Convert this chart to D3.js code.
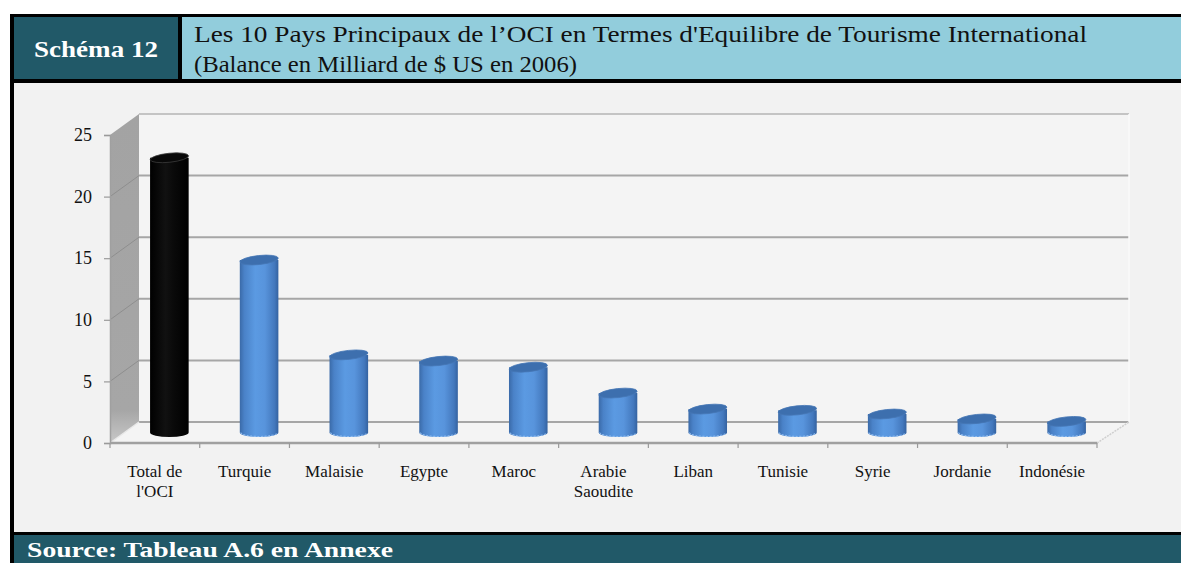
<!DOCTYPE html>
<html>
<head>
<meta charset="utf-8">
<script src="https://cdn.jsdelivr.net/npm/d3@7"></script>
<style>
  html, body { margin: 0; padding: 0; background: #ffffff; }
  svg { display: block; }
  svg text { font-family: "Liberation Serif", "Times New Roman", serif; }
</style>
</head>
<body>
<svg id="chart" width="1181" height="563"></svg>
<script>
// ---------- data ----------
const categories = ["Total de\nl'OCI", "Turquie", "Malaisie", "Egypte", "Maroc", "Arabie\nSaoudite", "Liban", "Tunisie", "Syrie", "Jordanie", "Indonésie"];
const values = [22.3, 14.0, 6.3, 5.8, 5.3, 3.2, 1.9, 1.8, 1.5, 1.1, 0.9];
const yTicks = [0, 5, 10, 15, 20, 25];
const schemaLabel = "Schéma 12";
const titleLines = ["Les 10 Pays Principaux de l’OCI en Termes d'Equilibre de Tourisme International", "(Balance en Milliard de $ US en 2006)"];
const sourceText = "Source: Tableau A.6 en Annexe";

// ---------- layout ----------
const W = 1181, H = 563;
const svg = d3.select("#chart");
const serif = "Liberation Serif";
const DX = 29, DY = -21;           // depth offset of back wall
const x = d3.scaleBand().domain(categories).range([110, 1097]).padding(0);
const y = d3.scaleLinear().domain([0, 25]).range([443, 135]);

const defs = svg.append("defs");
function hGrad(id, stops) {
  const g = defs.append("linearGradient").attr("id", id).attr("x1", "0%").attr("x2", "100%").attr("y1", "0%").attr("y2", "0%");
  stops.forEach(s => g.append("stop").attr("offset", s[0]).attr("stop-color", s[1]));
}
hGrad("blueBody", [[0, "#3a6aa8"], [0.12, "#4a82c8"], [0.4, "#5b9ae2"], [0.65, "#5894dc"], [0.9, "#4378bd"], [1, "#3462a0"]]);
hGrad("blackBody", [[0, "#000"], [0.4, "#111"], [0.6, "#0a0a0a"], [1, "#000"]]);
const sideG = defs.append("linearGradient").attr("id", "sideWall").attr("x1", "0").attr("x2", "0").attr("y1", "0").attr("y2", "1");
sideG.append("stop").attr("offset", 0).attr("stop-color", "#a3a3a3");
sideG.append("stop").attr("offset", 0.9).attr("stop-color", "#a6a6a6");
sideG.append("stop").attr("offset", 1).attr("stop-color", "#c8c8c8");

function txt(sel) { return sel.style("font-family", serif); }

// ---------- frame ----------
svg.append("rect").attr("width", W).attr("height", H).attr("fill", "#ffffff");
// header
svg.append("rect").attr("x", 10).attr("y", 14).attr("width", W - 10).attr("height", 69).attr("fill", "#000");
svg.append("rect").attr("x", 14).attr("y", 17).attr("width", 164).attr("height", 62).attr("fill", "#215968");
svg.append("rect").attr("x", 182).attr("y", 17).attr("width", W - 182).attr("height", 62).attr("fill", "#92cddc");
// chart area
svg.append("rect").attr("x", 10).attr("y", 83).attr("width", W - 10).attr("height", 449).attr("fill", "#000");
svg.append("rect").attr("x", 14).attr("y", 83).attr("width", W - 14).attr("height", 449).attr("fill", "#f2f2f2");
// source bar
svg.append("rect").attr("x", 10).attr("y", 532).attr("width", W - 10).attr("height", 31).attr("fill", "#000");
svg.append("rect").attr("x", 14).attr("y", 535).attr("width", W - 14).attr("height", 28).attr("fill", "#215968");

// header text
txt(svg.append("text")).attr("x", 96).attr("y", 57).attr("text-anchor", "middle")
  .attr("font-weight", "bold").attr("font-size", 24).attr("fill", "#ffffff")
  .attr("textLength", 124).attr("lengthAdjust", "spacingAndGlyphs").text(schemaLabel);
txt(svg.append("text")).attr("x", 194).attr("y", 42).attr("font-size", 24).attr("fill", "#111")
  .attr("textLength", 893).attr("lengthAdjust", "spacingAndGlyphs").text(titleLines[0]);
txt(svg.append("text")).attr("x", 194).attr("y", 72).attr("font-size", 24).attr("fill", "#111")
  .attr("textLength", 383).attr("lengthAdjust", "spacingAndGlyphs").text(titleLines[1]);
txt(svg.append("text")).attr("x", 27).attr("y", 557).attr("font-weight", "bold").attr("font-size", 22).attr("fill", "#ffffff")
  .attr("textLength", 366).attr("lengthAdjust", "spacingAndGlyphs").text(sourceText);

// ---------- 3D plot frame ----------
const x0 = x.range()[0], x1 = x.range()[1];
const yTop = y(25), yBot = y(0);
// back wall
svg.append("rect").attr("x", x0 + DX).attr("y", yTop + DY).attr("width", (x1 + DX + 3) - (x0 + DX)).attr("height", yBot - yTop)
  .attr("fill", "#f4f4f4");
// floor
svg.append("path").attr("d", `M${x0},${yBot} L${x0 + DX},${yBot + DY} L${x1 + DX + 3},${yBot + DY} L${x1},${yBot} Z`).attr("fill", "#f4f4f4");
// back wall gridlines
svg.append("g").selectAll("line").data(yTicks).join("line")
  .attr("x1", x0 + DX).attr("x2", x1 + DX + 3)
  .attr("y1", d => y(d) + DY).attr("y2", d => y(d) + DY)
  .attr("stroke", d => d === 25 ? "#c4c4c4" : "#a6a6a6").attr("stroke-width", 2);
// right edge of back wall
svg.append("line").attr("x1", x1 + DX + 3).attr("x2", x1 + DX + 3).attr("y1", yTop + DY).attr("y2", yBot + DY)
  .attr("stroke", "#fafafa").attr("stroke-width", 1.5);
// side wall
svg.append("path").attr("d", `M${x0},${yTop} L${x0 + DX},${yTop + DY} L${x0 + DX},${yBot + DY} L${x0},${yBot} Z`)
  .attr("fill", "url(#sideWall)");
svg.append("g").selectAll("line").data(yTicks.filter(d => d > 0 && d < 25)).join("line")
  .attr("x1", x0).attr("x2", x0 + DX)
  .attr("y1", d => y(d)).attr("y2", d => y(d) + DY)
  .attr("stroke", "#8e8e8e").attr("stroke-width", 1);
// floor edges
svg.append("line").attr("x1", x0).attr("y1", yBot).attr("x2", x0 + DX).attr("y2", yBot + DY).attr("stroke", "#e8e8e8").attr("stroke-width", 1.5);
svg.append("line").attr("x1", x1).attr("y1", yBot).attr("x2", x1 + DX + 3).attr("y2", yBot + DY)
  .attr("stroke", "#cfcfcf").attr("stroke-width", 1.5).attr("stroke-dasharray", "2,1");

// ---------- cylinders ----------
const rx = x.bandwidth() * 0.215, ry = 4.5;
const bars = svg.append("g");
categories.forEach((c, i) => {
  const cx = x(c) + x.bandwidth() / 2 + DX / 2;
  const base = y(0) + DY / 2;
  const top = y(values[i]) + DY / 2;
  const isTotal = i === 0;
  const g = bars.append("g");
  g.append("path")
    .attr("d", `M${cx - rx},${top} L${cx - rx},${base} A${rx},${ry} 0 0 0 ${cx + rx},${base} L${cx + rx},${top} Z`)
    .attr("fill", isTotal ? "url(#blackBody)" : "url(#blueBody)");
  if (!isTotal) {
    g.append("path").attr("d", `M${cx - rx + 1},${base} A${rx - 1},${ry - 0.5} 0 0 0 ${cx + rx - 1},${base}`)
      .attr("fill", "none").attr("stroke", "#8dbbf0").attr("stroke-width", 1.2).attr("stroke-dasharray", "2,1.5");
  }
  g.append("ellipse").attr("cx", cx).attr("cy", top).attr("rx", rx).attr("ry", ry)
    .attr("transform", `rotate(-6,${cx},${top})`)
    .attr("fill", isTotal ? "#080808" : "#3d6fae")
    .attr("stroke", isTotal ? "#3a3a3a" : "#4677b5").attr("stroke-width", 0.8);
});

// ---------- axes ----------
svg.append("line").attr("x1", x0).attr("x2", x1).attr("y1", yBot).attr("y2", yBot).attr("stroke", "#a0a0a0").attr("stroke-width", 2.5);
const bounds = categories.map(c => x(c)).concat([x1]);
svg.append("g").selectAll("line").data(bounds).join("line")
  .attr("x1", d => d).attr("x2", d => d).attr("y1", yBot).attr("y2", yBot + 5)
  .attr("stroke", "#9a9a9a").attr("stroke-width", 1.2);
const lab = svg.append("g").attr("fill", "#111").attr("text-anchor", "middle");
categories.forEach(c => {
  const t = txt(lab.append("text")).attr("font-size", 17).attr("x", x(c) + x.bandwidth() / 2).attr("y", 477);
  c.split("\n").forEach((line, k) => {
    t.append("tspan").attr("x", x(c) + x.bandwidth() / 2).attr("dy", k === 0 ? 0 : 20).text(line);
  });
});

const yAxis = svg.append("g").attr("transform", `translate(${x0},0)`)
  .call(d3.axisLeft(y).tickValues(yTicks).tickSize(6).tickPadding(12).tickFormat(d3.format("d")));
yAxis.select(".domain").attr("stroke", "#a0a0a0").attr("stroke-width", 1.5);
yAxis.selectAll(".tick line").attr("stroke", "#9a9a9a").attr("stroke-width", 1.2);
txt(yAxis.selectAll(".tick text")).attr("font-size", 18).attr("fill", "#111");
</script>
</body>
</html>
